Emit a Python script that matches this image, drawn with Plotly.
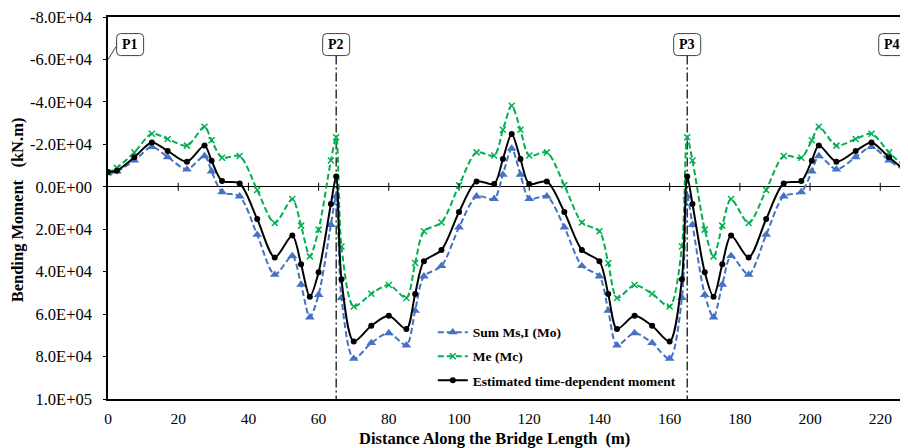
import plotly.graph_objects as go

# distance along the bridge (m)
dist = [0, 2.5, 7.5, 12.5, 17, 22.5, 27.5, 29.5, 32.5, 37.5, 42.5, 47.5, 52.5, 55, 57.5, 60,
        63.5, 65, 66.5, 70, 75, 80, 85, 87.5, 90, 95, 100, 105, 110, 112.5, 115,
        117.5, 120, 125, 130, 135, 140, 142.5, 145, 150, 155, 160, 163.5, 165, 166.5,
        170, 172.5, 175, 177.5, 182.5, 187.5, 192.5, 197.5, 200.5, 202.5, 207.5, 213,
        217.5, 222.5, 227.5, 230]

# Sum Ms,I (Mo)
sum_mo = [-6500, -7300, -12400, -18800, -14000, -8200, -14500, -7300, 2500, 4500, 22600,
          41400, 32600, 46100, 61500, 50900, 17900, 4500, 52400, 81000, 73600, 68900,
          74700, 58400, 42200, 37300, 19100, 4500, 5700, -5700, -18000,
          -5700, 5700, 4500, 19100, 37300, 42200, 58400, 74700, 68900, 73600, 81000,
          52400, 4500, 17900, 50900, 61500, 46100, 32600, 41400, 22600, 4500, 2500,
          -7300, -14500, -8200, -14000, -18800, -12400, -7300, -6500]

# Me (Mc)
me_mc = [-6500, -8900, -16200, -25000, -22500, -19400, -28300, -21900, -13700, -14500, 1500,
         17100, 5800, 18300, 32800, 20200, -12400, -23300, 28100, 56400, 50400, 46300,
         52400, 35900, 21000, 16800, -700, -16200, -14700, -26900, -38200,
         -26900, -14700, -16200, -700, 16800, 21000, 35900, 52400, 46300, 50400, 56400,
         28100, -23300, -12400, 20200, 32800, 18300, 5800, 17100, 1500, -14500, -13700,
         -21900, -28300, -19400, -22500, -25000, -16200, -8900, -6500]

# Estimated time-dependent moment
est = [-7000, -7600, -13900, -20900, -16900, -11800, -19500, -12300, -2700, -1600, 15200,
       33300, 23000, 36500, 51800, 40300, 8100, -4900, 43600, 72900, 65500, 60800,
       67000, 50500, 35100, 29800, 11900, -2500, -1300, -13100, -24900,
       -13100, -1300, -2500, 11900, 29800, 35100, 50500, 67000, 60800, 65500, 72900,
       43600, -4900, 8100, 40300, 51800, 36500, 23000, 33300, 15200, -1600, -2700,
       -12300, -19500, -11800, -16900, -20900, -13900, -7600, -7000]

piers = ["P1", "P2", "P3", "P4"]
pier_x = [0, 65, 165, 230]
label_x = [6.3, 65, 165, 223.4]   # where each pier tag sits along the span

y_ticks = [-80000, -60000, -40000, -20000, 0, 20000, 40000, 60000, 80000, 100000]
y_text = ["-8.0E+04", "-6.0E+04", "-4.0E+04", "-2.0E+04", "0.0E+00",
          "2.0E+04", "4.0E+04", "6.0E+04", "8.0E+04", "1.0E+05"]
x_ticks = [0, 20, 40, 60, 80, 100, 120, 140, 160, 180, 200, 220]

FONT = "Liberation Serif"
label_y = -67000

fig = go.Figure()
fig.add_trace(go.Scatter(x=dist, y=sum_mo, name="Sum Ms,I (Mo)", mode="lines+markers", legendgroup="a",
                         line=dict(color="#4472C4", width=2, dash="6px,3px", shape="spline", smoothing=0.8),
                         marker=dict(symbol="triangle-up", size=8.5, color="#4472C4")))
fig.add_trace(go.Scatter(x=dist, y=me_mc, name="Me (Mc)", mode="lines+markers", legendgroup="b",
                         line=dict(color="#00B050", width=2, dash="6px,3px", shape="spline", smoothing=0.8),
                         marker=dict(symbol="x-thin", size=6, color="#00B050",
                                     line=dict(color="#00B050", width=1.5))))
fig.add_trace(go.Scatter(x=dist, y=est, name="Estimated time-dependent moment", mode="lines+markers",
                         legendgroup="c",
                         line=dict(color="black", width=2, shape="spline", smoothing=0.8),
                         marker=dict(symbol="circle", size=6, color="black")))


def rounded(hw=13.5, hh=11, r=4):
    return (f"M {-hw + r},{-hh} L {hw - r},{-hh} Q {hw},{-hh} {hw},{-hh + r} "
            f"L {hw},{hh - r} Q {hw},{hh} {hw - r},{hh} L {-hw + r},{hh} "
            f"Q {-hw},{hh} {-hw},{hh - r} L {-hw},{-hh + r} Q {-hw},{-hh} {-hw + r},{-hh} Z")


# pier lines and tags
for name, px, lx in zip(piers, pier_x, label_x):
    if name in ("P2", "P3"):
        fig.add_shape(type="line", x0=px, x1=px, y0=-61800, y1=100000, layer="below",
                      line=dict(color="black", width=1.2, dash="9px,3px,2px,3px"))
    fig.add_shape(type="path", xref="x", yref="y", xsizemode="pixel", ysizemode="pixel",
                  xanchor=lx, yanchor=label_y, path=rounded(),
                  line=dict(color="#404040", width=1), fillcolor="white")
    fig.add_annotation(x=lx, y=label_y, text=f"<b>{name}</b>", showarrow=False,
                       font=dict(family=FONT, size=14, color="black"))

# leader lines for the end tags
fig.add_shape(type="line", xref="x", yref="y", xsizemode="pixel", ysizemode="pixel",
              xanchor=0, yanchor=label_y, x0=0, x1=8, y0=-15, y1=-2,
              line=dict(color="#404040", width=1))
fig.add_shape(type="line", xref="x", yref="y", xsizemode="pixel", ysizemode="pixel",
              xanchor=label_x[3], yanchor=label_y, x0=13.5, x1=25, y0=0, y1=0,
              line=dict(color="#404040", width=1))

# tick marks crossing the zero line
for t in x_ticks[1:]:
    fig.add_shape(type="line", xref="x", yref="y", ysizemode="pixel", yanchor=0,
                  x0=t, x1=t, y0=-4, y1=4, line=dict(color="black", width=1))

fig.add_annotation(xref="paper", yref="paper", x=-0.112, y=0.495, xanchor="center", yanchor="middle",
                   textangle=-90, text="<b>Bending Moment \u00a0 (kN.m)</b>", showarrow=False,
                   font=dict(family=FONT, size=16.5, color="black"))
fig.add_annotation(xref="paper", yref="paper", x=0.4825, y=-0.103, xanchor="center", yanchor="middle",
                   text="<b>Distance Along the Bridge Length \u00a0(m)</b>", showarrow=False,
                   font=dict(family=FONT, size=16.5, color="black"))

# page body has an 8px margin, so the figure is sized to end at the window edge
fig.update_layout(
    width=900, height=440,
    margin=dict(l=100, r=0, t=9, b=49),
    plot_bgcolor="white", paper_bgcolor="white",
    font=dict(family=FONT, size=15, color="black"),
    showlegend=True,
    legend=dict(x=0.406, y=0.215, xanchor="left", yanchor="top", bgcolor="rgba(0,0,0,0)",
                font=dict(family=FONT, size=13.5, color="black", weight="bold"),
                itemwidth=30, tracegroupgap=3.5),
)
fig.update_xaxes(range=[0, 227.9], tickvals=x_ticks, showgrid=False, zeroline=False,
                 showline=True, linecolor="black", linewidth=1.5, mirror=True,
                 ticks="", ticklabelstandoff=5, tickfont=dict(size=15.5))
fig.update_yaxes(range=[100000, -80000], tickvals=y_ticks, ticktext=y_text, showgrid=False,
                 zeroline=True, zerolinecolor="black", zerolinewidth=1,
                 showline=True, linecolor="black", linewidth=1.5, mirror=False,
                 ticks="outside", ticklen=3, tickcolor="black", ticklabelstandoff=8,
                 ticklabeloverflow="allow", tickfont=dict(size=16.5))

fig.write_html("out.html")
